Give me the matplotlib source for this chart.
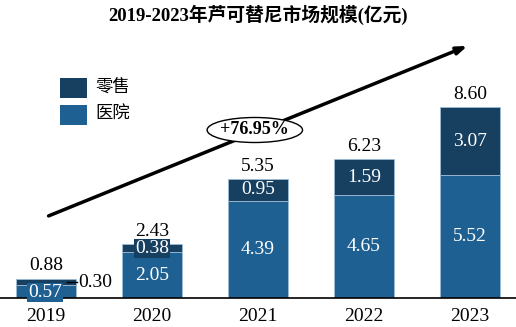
import numpy as np
import matplotlib.pyplot as plt
from matplotlib.patches import Ellipse, Rectangle

years = ["2019", "2020", "2021", "2022", "2023"]
hospital = [0.57, 2.05, 4.39, 4.65, 5.52]
retail = [0.30, 0.38, 0.95, 1.59, 3.07]
totals = [0.88, 2.43, 5.35, 6.23, 8.60]
cagr_label = "+76.95%"

c_retail = "#163f60"
c_hosp = "#1f6092"

plt.rcParams['font.family'] = ['Liberation Serif', 'Noto Sans CJK SC']

fig = plt.figure(figsize=(5.16, 3.27), dpi=100)
ax = fig.add_axes([0, 29 / 327, 1, 298 / 327])
x = np.arange(len(years))
w = 0.56

ax.bar(x, hospital, w, color=c_hosp, edgecolor="#9dbcd6", linewidth=0.6)
ax.bar(x, retail, w, bottom=hospital, color=c_retail, edgecolor="#9dbcd6", linewidth=0.6)

ax.set_xlim(-0.434, 4.434)
ax.set_ylim(0, 298 / 22.2)
for s in ["top", "right", "left"]:
    ax.spines[s].set_visible(False)
ax.spines["bottom"].set_linewidth(1.2)
ax.set_yticks([])
ax.set_xticks(x)
ax.set_xticklabels(years, fontsize=14)
ax.tick_params(axis="x", length=0, pad=7)

# totals above bars
for i, t in enumerate(totals):
    ax.text(x[i], t + 0.2, f"{t:.2f}", ha="center", va="bottom", fontsize=14)

# segment labels
for i in range(len(years)):
    if i == 0:
        ax.text(x[i] - 0.01, hospital[i] * 0.5 - 0.02, f"{hospital[i]:.2f}", ha="center",
                va="center", fontsize=14, color="white",
                bbox=dict(boxstyle="square,pad=0.05", fc=c_hosp, ec="none"))
        ax.plot([x[i] + 0.2, x[i] + 0.29], [hospital[i] + retail[i] * 0.5] * 2,
                color="black", lw=1)
        ax.text(x[i] + 0.3, hospital[i] + retail[i] * 0.5, f"{retail[i]:.2f}",
                ha="left", va="center", fontsize=14)
        continue
    ax.text(x[i], hospital[i] * 0.5, f"{hospital[i]:.2f}", ha="center", va="center",
            fontsize=14, color="white")
    if i == 1:
        ax.text(x[i], hospital[i] + retail[i] * 0.5 - 0.02, f"{retail[i]:.2f}",
                ha="center", va="center", fontsize=14, color="white",
                bbox=dict(boxstyle="square,pad=0.05", fc=c_retail, ec="none"))
    else:
        ax.text(x[i], hospital[i] + retail[i] * 0.5, f"{retail[i]:.2f}",
                ha="center", va="center", fontsize=14, color="white")

# growth arrow
ax.annotate("", xy=(4.0, 11.4), xytext=(0.0, 3.65),
            arrowprops=dict(arrowstyle="-|>,head_length=0.6,head_width=0.22",
                            color="black", lw=2.5))
ax.add_patch(Ellipse((1.97, (298 - 130) / 22.2), 0.9, 25 / 22.2,
                     fc="white", ec="black", lw=1, zorder=5))
ax.text(1.97, (298 - 130) / 22.2, cagr_label, ha="center", va="center",
        fontsize=13, fontweight="bold", zorder=6)

# legend
fig.patches.append(Rectangle((60 / 516, 1 - 98 / 327), 27 / 516, 20 / 327,
                             transform=fig.transFigure, fc=c_retail, ec="none"))
fig.patches.append(Rectangle((60 / 516, 1 - 125 / 327), 27 / 516, 20 / 327,
                             transform=fig.transFigure, fc=c_hosp, ec="none"))
fig.text(95 / 516, 1 - 88 / 327, "零售", va="center", fontsize=12.5)
fig.text(95 / 516, 1 - 115 / 327, "医院", va="center", fontsize=12.5)

fig.text(0.5, 1 - 15 / 327, "2019-2023年芦可替尼市场规模(亿元)", ha="center",
         va="center", fontsize=13.5, fontweight="bold")

fig.savefig("out.png", dpi=100)
